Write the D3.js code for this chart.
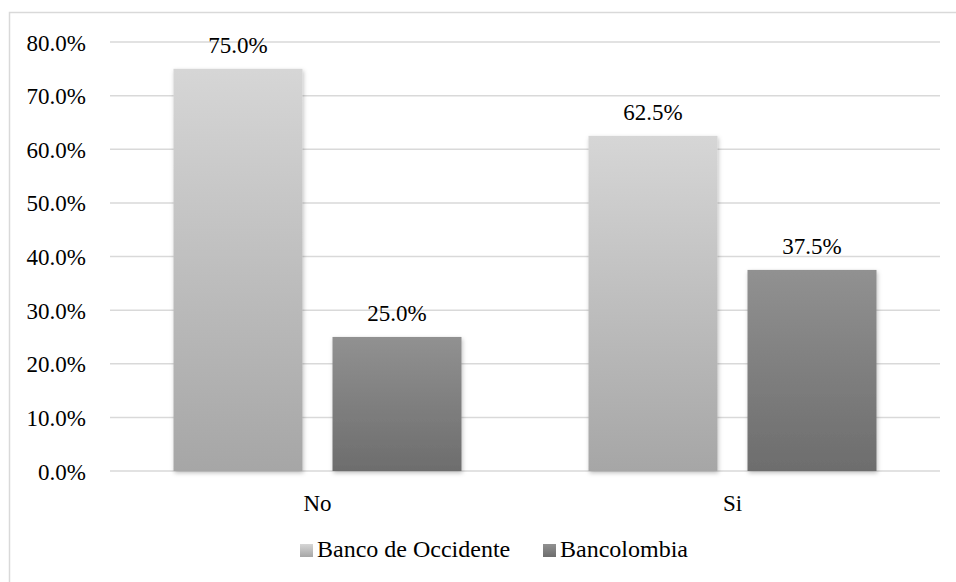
<!DOCTYPE html>
<html><head><meta charset="utf-8">
<script src="https://cdn.jsdelivr.net/npm/d3@7"></script>
<style>body{margin:0;background:#fff}svg{display:block}</style>
</head><body>
<script>
const categories = ["No", "Si"];
const seriesNames = ["Banco de Occidente", "Bancolombia"];
const bancoOccidente = [0.75, 0.625];
const bancolombia = [0.25, 0.375];
const yTicks = [0, 0.1, 0.2, 0.3, 0.4, 0.5, 0.6, 0.7, 0.8];

const W = 956, H = 582;
const FONT = '"Liberation Serif"';
const svg = d3.select("body").append("svg").attr("width", W).attr("height", H);
const defs = svg.append("defs");
const grads = [["#d6d6d6", "#a6a6a6"], ["#919191", "#6d6d6d"]];
grads.forEach((g, i) => {
  const lg = defs.append("linearGradient").attr("id", "g" + i).attr("x1", 0).attr("y1", 0).attr("x2", 0).attr("y2", 1);
  lg.append("stop").attr("offset", "0%").attr("stop-color", g[0]);
  lg.append("stop").attr("offset", "100%").attr("stop-color", g[1]);
});
const f = defs.append("filter").attr("id", "sh").attr("x", "-10%").attr("y", "-10%").attr("width", "130%").attr("height", "130%");
f.append("feDropShadow").attr("dx", 1).attr("dy", 2).attr("stdDeviation", 2).attr("flood-color", "#000").attr("flood-opacity", 0.25);

svg.append("rect").attr("x", 9.5).attr("y", 12.5).attr("width", 980).attr("height", 620)
  .attr("fill", "none").attr("stroke", "#d9d9d9").attr("stroke-width", 1.5);

const x0 = d3.scaleBand().domain(categories).range([110, 940]);
const x1 = d3.scaleBand().domain(seriesNames).range([63.5, x0.bandwidth() - 63.5]).paddingInner(30 / 159).paddingOuter(0);
const y = d3.scaleLinear().domain([0, 0.8]).range([471, 42]);

const grid = svg.append("g");
yTicks.forEach(t => {
  grid.append("line").attr("x1", 110).attr("x2", 940).attr("y1", y(t)).attr("y2", y(t))
    .attr("stroke", "#d9d9d9").attr("stroke-width", 1.5);
});
const yAxis = d3.axisLeft(y).tickValues(yTicks).tickFormat(d3.format(".1%")).tickSize(0).tickPadding(0);
const ya = svg.append("g").attr("transform", "translate(86,0)").call(yAxis);
ya.select(".domain").remove();
ya.selectAll("text").style("font-family", FONT).attr("font-size", 23).attr("fill", "#000").attr("dy", "0.35em");

const data = [bancoOccidente, bancolombia];
const bars = svg.append("g");
categories.forEach((c, ci) => {
  seriesNames.forEach((s, si) => {
    const v = data[si][ci];
    const bx = x0(c) + x1(s);
    bars.append("rect").attr("x", bx).attr("y", y(v)).attr("width", x1.bandwidth()).attr("height", y(0) - y(v))
      .attr("fill", `url(#g${si})`).attr("filter", "url(#sh)");
    svg.append("text").attr("x", bx + x1.bandwidth() / 2).attr("y", y(v) - 16)
      .attr("text-anchor", "middle").style("font-family", FONT).attr("font-size", 23).attr("fill", "#000")
      .text(d3.format(".1%")(v));
  });
});

const xAxis = d3.axisBottom(x0).tickSize(0).tickPadding(0);
const xa = svg.append("g").attr("transform", "translate(0,471)").call(xAxis);
xa.select(".domain").remove();
xa.selectAll("text").style("font-family", FONT).attr("font-size", 23).attr("fill", "#000").attr("dy", "0").attr("y", 40);

const legendX = [300, 543];
seriesNames.forEach((s, i) => {
  svg.append("rect").attr("x", legendX[i]).attr("y", 544).attr("width", 13).attr("height", 13).attr("fill", `url(#g${i})`);
  svg.append("text").attr("x", legendX[i] + 17).attr("y", 557).style("font-family", FONT).attr("font-size", 24)
    .attr("fill", "#000").text(s);
});
</script>
</body></html>
